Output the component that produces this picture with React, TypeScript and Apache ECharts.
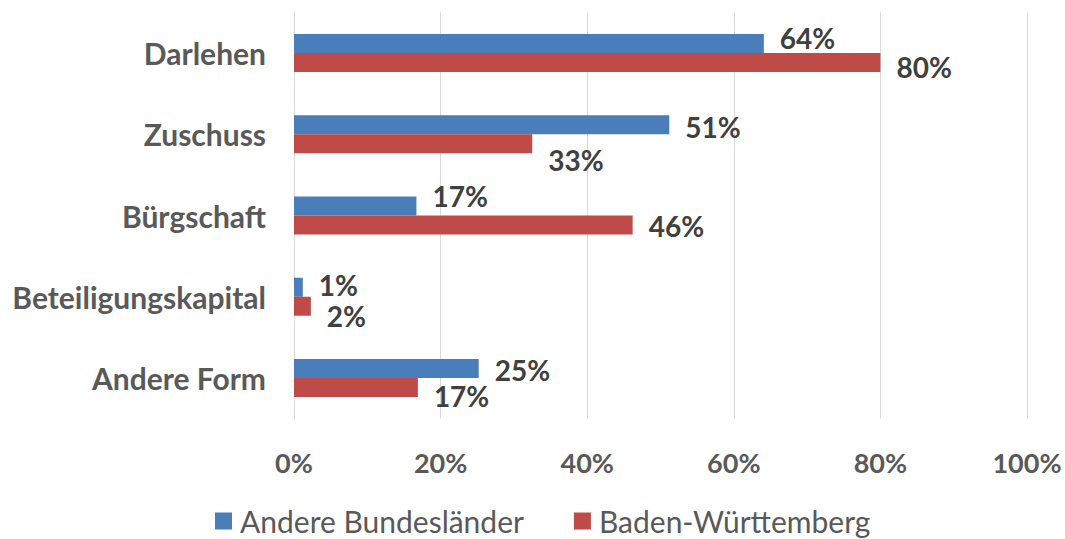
import React, { useEffect, useRef } from "react";
import * as echarts from "echarts";

const categories = ["Darlehen", "Zuschuss", "Bürgschaft", "Beteiligungskapital", "Andere Form"];
const seriesNames = ["Andere Bundesländer", "Baden-Württemberg"];
const andereBundeslaender = [64.1, 51.2, 16.7, 1.2, 25.2];
const badenWuerttemberg = [80, 32.5, 46.2, 2.3, 16.9];
const xTicks = [0, 20, 40, 60, 80, 100];

// label vertical nudges (layout only)
const blueLabelDy = [-6, 2, -10, -2, 2];
const redLabelDy = [4, 16, 1, 10, 9];

const FONT = "Lato, 'Liberation Sans', sans-serif";

export default function App() {
  const ref = useRef<HTMLDivElement>(null);
  useEffect(() => {
    document.body.style.margin = "0";
    document.body.style.overflow = "hidden";
    if (!ref.current) return;
    const chart = echarts.init(ref.current, undefined, { renderer: "svg" });
    const mk = (vals: number[], dys: number[]) =>
      vals.map((v, i) => ({
        value: v,
        label: { offset: [0, dys[i]] },
      }));
    const labelStyle = {
      show: true,
      position: "right",
      distance: 16,
      formatter: (p: any) => Math.round(p.value) + "%",
      fontFamily: FONT,
      fontSize: 28,
      fontWeight: "bold",
      color: "#404040",
    };
    chart.setOption({
      animation: false,
      textStyle: { fontFamily: FONT },
      grid: { left: 294, right: 38, top: 12.4, bottom: 120.4, containLabel: false },
      legend: {
        top: 503,
        left: 215,
        itemWidth: 17,
        itemHeight: 17,
        itemGap: 50,
        icon: "rect",
        padding: 0,
        textStyle: { fontFamily: FONT, fontSize: 30, lineHeight: 36, color: "#595959", padding: [0, 0, 0, 3] },
        data: seriesNames,
      },
      xAxis: {
        type: "value",
        min: xTicks[0],
        max: xTicks[xTicks.length - 1],
        interval: 20,
        axisLine: { show: false },
        axisTick: { show: false },
        splitLine: { lineStyle: { color: "#d9d9d9", width: 1 } },
        axisLabel: {
          formatter: (v: number) => v + "%",
          fontFamily: FONT,
          fontSize: 27,
          fontWeight: "bold",
          color: "#595959",
          margin: 30,
        },
      },
      yAxis: {
        type: "category",
        data: categories,
        inverse: true,
        axisLine: { show: true, lineStyle: { color: "#d9d9d9" } },
        axisTick: { show: false },
        axisLabel: {
          fontFamily: FONT,
          fontSize: 30,
          fontWeight: "bold",
          color: "#595959",
          margin: 28,
        },
      },
      series: [
        {
          name: seriesNames[0],
          type: "bar",
          data: mk(andereBundeslaender, blueLabelDy),
          barWidth: 19,
          barGap: "0%",
          itemStyle: { color: "#4A7EBB" },
          label: labelStyle,
        },
        {
          name: seriesNames[1],
          type: "bar",
          data: mk(badenWuerttemberg, redLabelDy),
          barWidth: 19,
          barGap: "0%",
          itemStyle: { color: "#BE4B48" },
          label: labelStyle,
        },
      ],
    });
    return () => chart.dispose();
  }, []);
  return <div ref={ref} style={{ width: 1065, height: 539 }} />;
}
